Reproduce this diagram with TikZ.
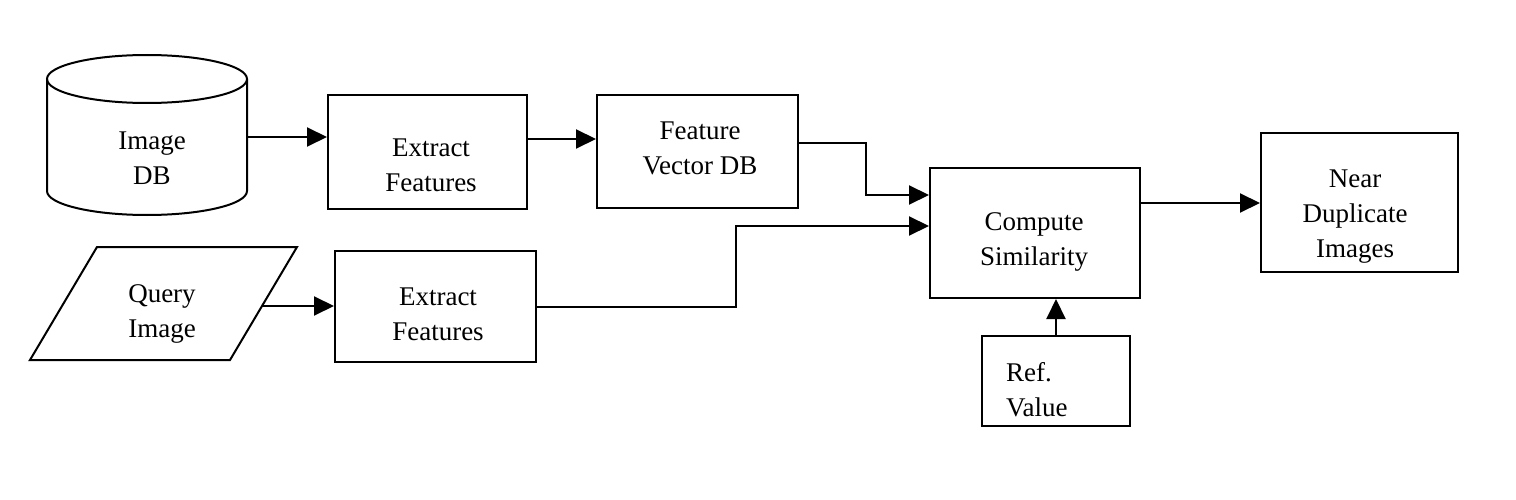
\documentclass[tikz,border=0pt]{standalone}
\usepackage{fontspec}
\setmainfont{Liberation Serif}
\usetikzlibrary{arrows.meta}
\begin{document}
\begin{tikzpicture}[x=1pt,y=-1pt,
  line/.style={line width=2pt},
  arr/.style={line, -{Triangle[length=20pt,width=19pt]}},
  blk/.style={draw, line width=2pt, inner sep=0pt},
  txt/.style={align=center, inner sep=0pt, font=\fontsize{27pt}{35pt}\selectfont},
  ghost/.style={inner sep=0pt}]
\useasboundingbox (0,0) rectangle (1516,500);
% cylinder
\draw[line] (147,79) ellipse [x radius=100pt, y radius=24pt];
\draw[line] (47,79) -- (47,191) arc[start angle=180,end angle=360,x radius=100pt,y radius=24pt] -- (247,79);
\node[ghost, minimum width=200pt, minimum height=160pt] (db) at (147,137) {};
\node[txt] (dbt) at (152,158) {Image\\DB};
% parallelogram
\draw[line] (97,247) -- (297,247) -- (230,360) -- (30,360) -- cycle;
\coordinate (qout) at (262,306);
\node[txt] (qt) at (162,314) {Query\\Image};
% boxes
\node[blk, minimum width=199pt, minimum height=113pt] (ef1) at (427.5,152) {};
\node[txt] (ef1t) at (431,165) {Extract\\Features};
\node[blk, minimum width=201pt, minimum height=111pt] (ef2) at (435.5,306.5) {};
\node[txt] (ef2t) at (438,314) {Extract\\Features};
\node[blk, minimum width=201pt, minimum height=113pt] (fv) at (697.5,151.5) {};
\node[txt] (fvt) at (700,148) {Feature\\Vector DB};
\node[blk, minimum width=210pt, minimum height=130pt] (cs) at (1035,233) {};
\node[txt] (cst) at (1034,242) {Compute\\Similarity};
\node[blk, minimum width=197pt, minimum height=139pt] (nd) at (1359.5,202.5) {};
\node[txt] (ndt) at (1355,217) {Near\\Duplicate\\Images};
\node[blk, minimum width=148pt, minimum height=90pt] (ref) at (1056,381) {};
\node[txt, align=left, anchor=west] (reft) at (1006,390) {Ref.\\Value};
% connectors
\draw[arr] (db.east) -- (db.east -| ef1.west);
\draw[arr] ([yshift=13pt]ef1.east) -- ([yshift=13pt]ef1.east -| fv.west);
\draw[arr] ([yshift=8pt]fv.east) -- ++(67pt,0) |- ([yshift=38pt]cs.west);
\draw[arr] (qout) -- (qout -| ef2.west);
\draw[arr] (ef2.east) -- ++(199pt,0) |- ([yshift=7pt]cs.west);
\draw[arr] ([yshift=30pt]cs.east) -- ([yshift=30pt]cs.east -| nd.west);
\draw[arr] (ref.north) -- (ref.north |- cs.south);
\end{tikzpicture}
\end{document}
